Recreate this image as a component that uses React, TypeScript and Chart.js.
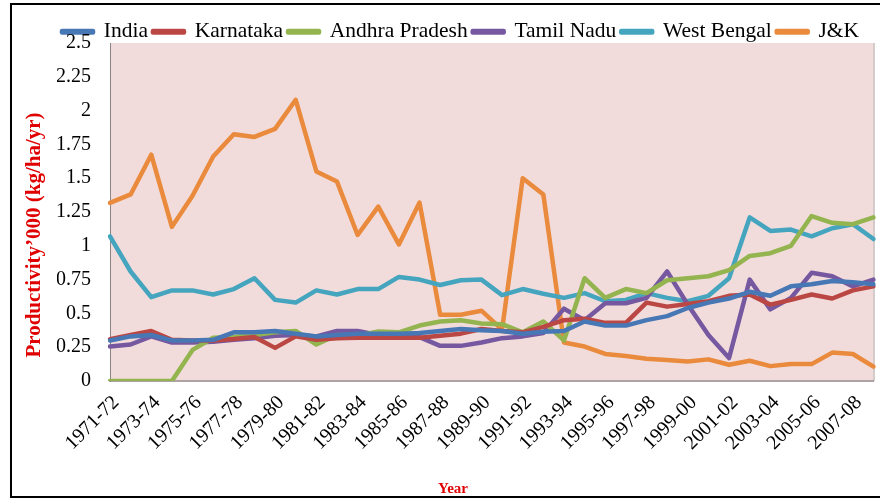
import React, { useEffect, useRef } from 'react';
import { Chart, registerables } from 'chart.js';

Chart.register(...registerables);

const years = [
  '1971-72', '1972-73', '1973-74', '1974-75', '1975-76', '1976-77', '1977-78', '1978-79',
  '1979-80', '1980-81', '1981-82', '1982-83', '1983-84', '1984-85', '1985-86', '1986-87',
  '1987-88', '1988-89', '1989-90', '1990-91', '1991-92', '1992-93', '1993-94', '1994-95',
  '1995-96', '1996-97', '1997-98', '1998-99', '1999-00', '2000-01', '2001-02', '2002-03',
  '2003-04', '2004-05', '2005-06', '2006-07', '2007-08', '2008-09',
];

const india = [
  0.30, 0.33, 0.34, 0.30, 0.30, 0.305, 0.36, 0.36, 0.37, 0.35, 0.33, 0.34, 0.35, 0.35, 0.35, 0.355,
  0.37, 0.385, 0.375, 0.37, 0.35, 0.365, 0.37, 0.44, 0.41, 0.41, 0.45, 0.48, 0.54, 0.58, 0.61, 0.66,
  0.63, 0.70, 0.715, 0.74, 0.73, 0.715,
];

const karnataka = [
  0.31, 0.34, 0.37, 0.305, 0.30, 0.30, 0.31, 0.325, 0.245, 0.33, 0.305, 0.317, 0.32, 0.32, 0.32, 0.32,
  0.335, 0.35, 0.385, 0.37, 0.36, 0.40, 0.45, 0.46, 0.43, 0.43, 0.58, 0.55, 0.57, 0.59, 0.63, 0.64,
  0.565, 0.60, 0.64, 0.61, 0.67, 0.70,
];

const andhraPradesh = [
  0, 0, 0, 0, 0.23, 0.32, 0.325, 0.34, 0.36, 0.37, 0.27, 0.34, 0.335, 0.367, 0.36, 0.41,
  0.44, 0.45, 0.425, 0.42, 0.36, 0.44, 0.30, 0.76, 0.615, 0.68, 0.65, 0.745, 0.76, 0.775, 0.82, 0.925,
  0.945, 1.00, 1.22, 1.17, 1.16, 1.21,
];

const tamilNadu = [
  0.255, 0.27, 0.33, 0.285, 0.285, 0.29, 0.305, 0.317, 0.335, 0.34, 0.33, 0.37, 0.37, 0.34, 0.335, 0.325,
  0.26, 0.26, 0.285, 0.317, 0.33, 0.355, 0.535, 0.45, 0.575, 0.575, 0.615, 0.81, 0.565, 0.34, 0.17, 0.75,
  0.53, 0.615, 0.80, 0.775, 0.70, 0.75,
];

const westBengal = [
  1.07, 0.81, 0.62, 0.67, 0.67, 0.64, 0.68, 0.76, 0.60, 0.58, 0.67, 0.64, 0.68, 0.68, 0.77, 0.75,
  0.71, 0.745, 0.75, 0.635, 0.68, 0.645, 0.615, 0.65, 0.59, 0.60, 0.65, 0.615, 0.59, 0.63, 0.76, 1.21,
  1.11, 1.12, 1.07, 1.13, 1.16, 1.05,
];

const jk = [
  1.317, 1.38, 1.674, 1.14, 1.37, 1.66, 1.825, 1.805, 1.865, 2.08, 1.55, 1.475, 1.08, 1.29, 1.01, 1.32,
  0.49, 0.49, 0.52, 0.38, 1.50, 1.38, 0.285, 0.255, 0.20, 0.185, 0.165, 0.155, 0.144, 0.16, 0.12, 0.15,
  0.11, 0.125, 0.125, 0.21, 0.20, 0.106,
];

const seriesNames = ['India', 'Karnataka', 'Andhra Pradesh', 'Tamil Nadu', 'West Bengal', 'J&K'];
const yTickLabels = ['0', '0.25', '0.5', '0.75', '1', '1.25', '1.5', '1.75', '2', '2.25', '2.5'];
const yAxisTitle = 'Productivity’000 (kg/ha/yr)';
const xAxisTitle = 'Year';

const seriesColors = ['#4778B5', '#BA4743', '#93B44F', '#7558A0', '#45A5BF', '#E98A3C'];

const decorPlugin = {
  id: 'decor',
  beforeDraw(chart: any) {
    const { ctx, chartArea } = chart;
    ctx.save();
    ctx.fillStyle = '#ffffff';
    ctx.fillRect(0, 0, chart.width, chart.height);
    ctx.fillStyle = '#F2DCDB';
    ctx.fillRect(chartArea.left, chartArea.top, chartArea.right - chartArea.left, chartArea.bottom - chartArea.top);
    ctx.strokeStyle = '#C9BDBD';
    ctx.lineWidth = 1.5;
    ctx.beginPath();
    ctx.moveTo(chartArea.right + 0.5, chartArea.top);
    ctx.lineTo(chartArea.right + 0.5, chartArea.bottom);
    ctx.stroke();
    ctx.restore();
  },
  afterDraw(chart: any) {
    const { ctx } = chart;
    ctx.save();
    ctx.fillStyle = '#E00000';
    ctx.font = 'bold 21px "Liberation Serif"';
    ctx.textAlign = 'center';
    ctx.textBaseline = 'middle';
    ctx.translate(35, 235);
    ctx.rotate(-Math.PI / 2);
    ctx.fillText(yAxisTitle, 0, 0);
    ctx.restore();

    ctx.save();
    ctx.fillStyle = '#E00000';
    ctx.font = 'bold 15px "Liberation Serif"';
    ctx.textAlign = 'center';
    ctx.textBaseline = 'middle';
    ctx.fillText(xAxisTitle, 453, 489);
    ctx.restore();

    ctx.save();
    ctx.strokeStyle = '#000000';
    ctx.lineWidth = 2;
    ctx.strokeRect(11, 4, 890, 493);
    ctx.restore();
  },
};

export default function App() {
  const ref = useRef<HTMLCanvasElement>(null);

  useEffect(() => {
    const values = [india, karnataka, andhraPradesh, tamilNadu, westBengal, jk];
    const tickFont = { family: '"Liberation Serif", "Times New Roman", serif', size: 20 };
    const chart = new Chart(ref.current as HTMLCanvasElement, {
      type: 'line',
      data: {
        labels: years,
        datasets: seriesNames.map((name, i) => ({
          label: name,
          data: values[i],
          borderColor: seriesColors[i],
          backgroundColor: seriesColors[i],
          borderWidth: 4.5,
          pointRadius: 0,
          tension: 0,
          fill: false,
          borderJoinStyle: 'round' as const,
          borderCapStyle: 'round' as const,
        })),
      },
      options: {
        responsive: false,
        animation: false,
        events: [],
        layout: { padding: { top: 16, left: 57, right: 6, bottom: 0 } },
        plugins: {
          legend: {
            position: 'top',
            align: 'start',
            maxHeight: 27,
            labels: {
              boxWidth: 31,
              boxHeight: 1.5,
              padding: 5,
              color: '#000',
              font: { family: '"Liberation Serif", "Times New Roman", serif', size: 21.5 },
            },
          },
          tooltip: { enabled: false },
        },
        scales: {
          x: {
            grid: { display: false, drawTicks: false },
            border: { display: true, color: '#ADA3A3', width: 2 },
            ticks: {
              autoSkip: false,
              minRotation: 45,
              maxRotation: 45,
              padding: 10,
              labelOffset: 6,
              color: '#000',
              font: tickFont,
              callback: (_v: any, i: number) => (i % 2 === 0 ? years[i] : null),
            },
            afterFit: (s: any) => {
              s.height = 121;
            },
          },
          y: {
            min: 0,
            max: 2.5,
            grid: { display: false, drawTicks: false },
            border: { display: true, color: '#868686', width: 1 },
            ticks: {
              stepSize: 0.25,
              padding: 19,
              color: '#000',
              font: tickFont,
              callback: (v: any) => yTickLabels[Math.round(Number(v) / 0.25)],
            },
            afterFit: (s: any) => {
              s.width = 53;
            },
          },
        },
      },
      plugins: [decorPlugin],
    });
    return () => chart.destroy();
  }, []);

  return (
    <div style={{ position: 'absolute', left: 0, top: 0, width: 880, height: 502, overflow: 'hidden', background: '#fff' }}>
      <canvas ref={ref} width={880} height={502} style={{ display: 'block' }} />
    </div>
  );
}
